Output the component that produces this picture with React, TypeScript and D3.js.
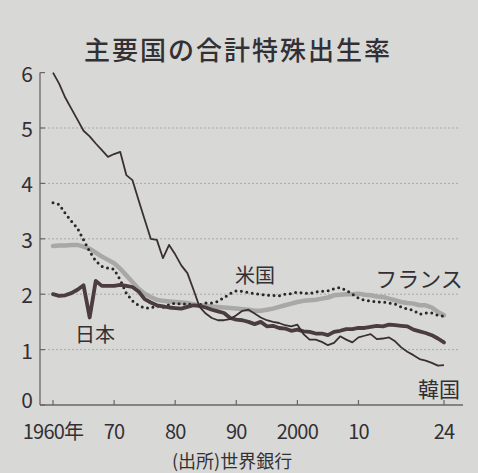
// App.tsx
// Total fertility rate of major countries (World Bank), newspaper-style line chart
import React from "react";
import * as d3 from "d3";

const years = [
  1960, 1961, 1962, 1963, 1964, 1965, 1966, 1967, 1968, 1969,
  1970, 1971, 1972, 1973, 1974, 1975, 1976, 1977, 1978, 1979,
  1980, 1981, 1982, 1983, 1984, 1985, 1986, 1987, 1988, 1989,
  1990, 1991, 1992, 1993, 1994, 1995, 1996, 1997, 1998, 1999,
  2000, 2001, 2002, 2003, 2004, 2005, 2006, 2007, 2008, 2009,
  2010, 2011, 2012, 2013, 2014, 2015, 2016, 2017, 2018, 2019,
  2020, 2021, 2022, 2023, 2024,
];

const korea = [
  6.0, 5.8, 5.55, 5.35, 5.15, 4.95, 4.85, 4.72, 4.6, 4.48,
  4.53, 4.57, 4.15, 4.06, 3.7, 3.35, 3.0, 2.98, 2.65, 2.89,
  2.72, 2.52, 2.38, 2.08, 1.77, 1.65, 1.57, 1.53, 1.53, 1.55,
  1.62, 1.7, 1.72, 1.65, 1.58, 1.53, 1.5, 1.48, 1.44, 1.42,
  1.45, 1.28, 1.18, 1.18, 1.14, 1.08, 1.12, 1.24, 1.18, 1.13,
  1.22, 1.25, 1.28, 1.19, 1.2, 1.22, 1.15, 1.04, 0.96, 0.9,
  0.83, 0.8, 0.76, 0.71, 0.72,
];

const japan = [
  2.0, 1.97, 1.98, 2.02, 2.08, 2.16, 1.58, 2.24, 2.15, 2.15,
  2.15, 2.17, 2.15, 2.13, 2.05, 1.91, 1.85, 1.8, 1.78, 1.76,
  1.75, 1.74, 1.77, 1.8, 1.79, 1.76, 1.72, 1.69, 1.66, 1.57,
  1.54, 1.53, 1.5, 1.46, 1.5, 1.42, 1.43, 1.39, 1.38, 1.34,
  1.36, 1.33, 1.32, 1.29, 1.29, 1.26, 1.32, 1.34, 1.37, 1.37,
  1.39, 1.39, 1.41, 1.43, 1.42, 1.45, 1.44, 1.43, 1.42, 1.36,
  1.33, 1.3, 1.26, 1.2, 1.13,
];

const usa = [
  3.65, 3.62, 3.46, 3.32, 3.19, 2.98, 2.77, 2.6, 2.5, 2.47,
  2.45, 2.26, 2.02, 1.88, 1.8, 1.75, 1.75, 1.79, 1.76, 1.81,
  1.84, 1.82, 1.83, 1.8, 1.81, 1.84, 1.84, 1.87, 1.94, 2.01,
  2.06, 2.05, 2.03, 2.01, 2.0, 1.98, 1.98, 1.97, 2.0, 2.01,
  2.04, 2.02, 2.01, 2.04, 2.05, 2.06, 2.1, 2.12, 2.07, 2.0,
  1.93, 1.89, 1.88, 1.86, 1.86, 1.84, 1.82, 1.77, 1.73, 1.71,
  1.64, 1.66, 1.66, 1.62, 1.6,
];

const france = [
  2.87, 2.88, 2.88, 2.89, 2.89, 2.86, 2.82, 2.75, 2.68, 2.62,
  2.56, 2.46, 2.34, 2.22, 2.1, 2.01, 1.95, 1.9, 1.88, 1.87,
  1.86, 1.85, 1.84, 1.82, 1.8, 1.79, 1.78, 1.77, 1.76, 1.75,
  1.74, 1.73, 1.72, 1.7, 1.7, 1.72, 1.74, 1.77, 1.8, 1.83,
  1.86, 1.88, 1.89, 1.9, 1.92, 1.94, 1.98, 1.99, 2.0, 2.0,
  2.01, 1.99, 1.98, 1.96, 1.95, 1.92, 1.89, 1.86, 1.84, 1.83,
  1.8, 1.8, 1.76, 1.68, 1.62,
];

const xTicks = [1960, 1970, 1980, 1990, 2000, 2010, 2024];
const xTickLabels = ["1960年", "70", "80", "90", "2000", "10", "24"];
const yTicks = [0, 1, 2, 3, 4, 5, 6];
const gridValues = [1, 2, 3, 4, 5];

const W = 478, H = 473;
const font = "'Noto Sans CJK JP', 'Noto Sans', sans-serif";
const ink = "#333033";

export default function App() {
  const x = d3.scaleLinear().domain([1960, 2024]).range([53, 444]);
  const y = d3.scaleLinear().domain([0, 6]).range([405, 72.6]);
  const line = d3.line<number>()
    .x((_, i) => x(years[i]))
    .y((d) => y(d));

  const axisLeft = 40, axisRight = 463;

  return (
    <div style={{ position: "absolute", left: 0, top: 0 }}>
      <svg width={W} height={H} style={{ display: "block", background: "#d8d8d6" }}>
        {/* title */}
        <text x={238} y={60} textAnchor="middle" fontFamily={font} fontSize={26}
          fontWeight={500} letterSpacing={2} fill={ink}>主要国の合計特殊出生率</text>

        {/* grid */}
        {gridValues.map((v) => (
          <line key={v} x1={axisLeft} x2={axisRight - 3} y1={y(v)} y2={y(v)}
            stroke="#aaa9a8" strokeWidth={1} strokeDasharray="2 2" />
        ))}

        {/* y axis */}
        <line x1={axisLeft} x2={axisLeft} y1={y(6)} y2={y(0)} stroke="#6a6668" strokeWidth={1.3} />
        {yTicks.map((v) => (
          <g key={v}>
            <line x1={axisLeft} x2={axisLeft + 5} y1={y(v)} y2={y(v)} stroke="#6a6668" strokeWidth={1.2} />
            <text x={33} y={y(v) + (v === 0 ? -6 : 0)} textAnchor="end" dominantBaseline="central"
              fontFamily={font} fontSize={21} fill={ink}>{v}</text>
          </g>
        ))}

        {/* x axis */}
        <line x1={axisLeft} x2={axisRight} y1={y(0)} y2={y(0)} stroke="#6a6668" strokeWidth={1.3} />
        {xTicks.map((t, i) => (
          <g key={t}>
            <line x1={x(t)} x2={x(t)} y1={y(0)} y2={y(0) - 5} stroke="#6a6668" strokeWidth={1.2} />
            <text x={x(t)} y={439} textAnchor="middle" fontFamily={font} fontSize={20}
              letterSpacing={-0.8} fill={ink}>{xTickLabels[i]}</text>
          </g>
        ))}

        {/* series */}
        <path d={line(france) ?? ""} fill="none" stroke="#a9a8a8" strokeWidth={4.5}
          strokeLinejoin="round" strokeLinecap="round" />
        <path d={line(usa) ?? ""} fill="none" stroke="#2b2628" strokeWidth={3}
          strokeDasharray="0 5.5" strokeLinecap="round" />
        <path d={line(japan) ?? ""} fill="none" stroke="#4a3c40" strokeWidth={3.8}
          strokeLinejoin="round" strokeLinecap="round" />
        <path d={line(korea) ?? ""} fill="none" stroke="#3a2f33" strokeWidth={1.8}
          strokeLinejoin="round" />

        {/* series labels */}
        <text x={255} y={283} textAnchor="middle" fontFamily={font} fontSize={20} fill={ink}>米国</text>
        <text x={419} y={287} textAnchor="middle" fontFamily={font} fontSize={22} fill={ink}>フランス</text>
        <text x={95} y={342} textAnchor="middle" fontFamily={font} fontSize={20} fill={ink}>日本</text>
        <text x={439} y={397} textAnchor="middle" fontFamily={font} fontSize={21} fill={ink}>韓国</text>

        {/* source */}
        <text x={172} y={468} fontFamily={font} fontSize={18} fill={ink}>(出所)世界銀行</text>
      </svg>
    </div>
  );
}
